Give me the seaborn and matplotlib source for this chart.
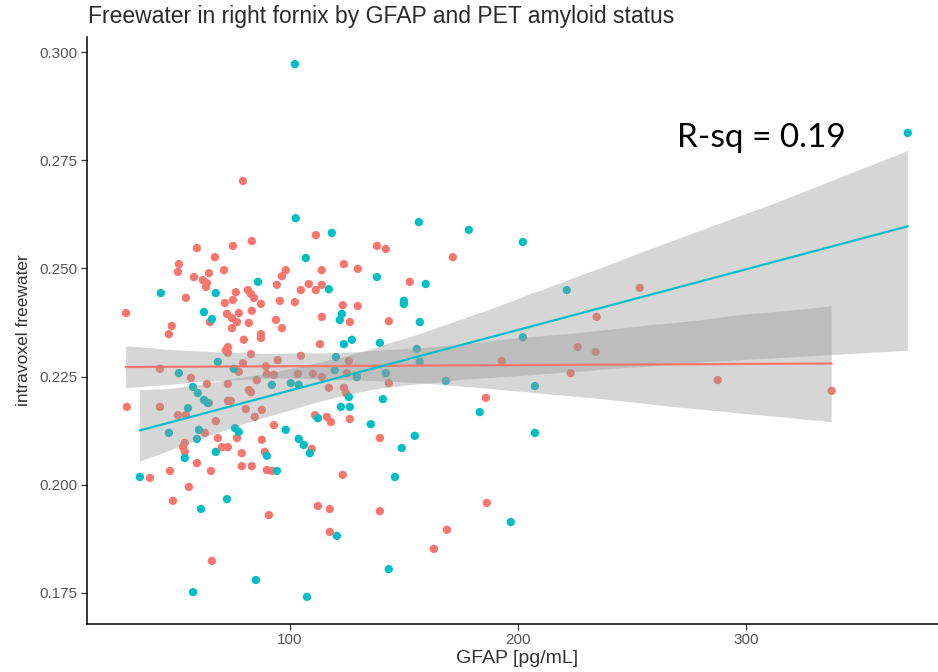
import numpy as np
import pandas as pd
import matplotlib
matplotlib.use("Agg")
import matplotlib.pyplot as plt
import seaborn as sns

# ---------------- data ----------------
neg_gfap = [79.4, 83.3, 59.2, 75.0, 67.1, 51.3, 50.9, 57.9, 64.5, 71.1,
            61.8, 63.6, 63.2, 98.2, 96.5, 94.3, 54.4, 76.3, 75.0, 71.5,
            81.6, 82.9, 84.2, 87.3, 95.6, 102.2, 104.8, 28.1, 64.9, 72.4,
            74.6, 77.6, 76.8, 74.6, 83.3, 82.0, 93.9, 96.5, 48.2, 46.9,
            87.3, 87.3, 79.8, 72.8, 71.9, 72.8, 82.9, 79.4, 89.5, 94.7,
            104.8, 113.2, 125.9, 43.0, 77.6, 56.6, 89.9, 93.0, 103.5, 110.1,
            114.0, 125.0, 129.4, 63.6, 72.8, 85.5, 117.1, 123.7, 124.6, 82.0,
            82.9, 72.8, 74.1, 64.5, 28.5, 43.0, 50.9, 54.4, 80.7, 87.7,
            84.6, 67.5, 93.0, 111.0, 116.2, 118.0, 126.3, 62.7, 53.9, 68.4,
            76.8, 87.7, 70.2, 72.8, 53.1, 53.9, 78.9, 89.0, 59.2, 78.9,
            83.3, 89.9, 92.1, 47.4, 65.4, 38.6, 55.7, 48.7, 90.8, 65.8,
            111.4, 138.2, 142.1, 171.5, 123.7, 129.8, 114.0, 108.3, 114.0, 111.4,
            152.6, 123.2, 129.8, 114.0, 126.3, 143.4, 193.0, 226.3, 234.2, 234.6,
            223.2, 143.4, 186.0, 139.5, 109.6, 123.2, 112.3, 117.5, 139.5, 186.4,
            117.5, 168.9, 163.2, 253.5, 287.7, 337.7]
neg_fw = [0.2702, 0.2563, 0.2547, 0.2552, 0.2526, 0.2510, 0.2492, 0.2480, 0.2489, 0.2496,
          0.2473, 0.2466, 0.2457, 0.2496, 0.2482, 0.2462, 0.2432, 0.2445, 0.2427, 0.2420,
          0.2450, 0.2441, 0.2432, 0.2418, 0.2425, 0.2422, 0.2450, 0.2397, 0.2376, 0.2395,
          0.2385, 0.2397, 0.2376, 0.2362, 0.2402, 0.2374, 0.2381, 0.2362, 0.2367, 0.2348,
          0.2348, 0.2339, 0.2335, 0.2318, 0.2311, 0.2305, 0.2302, 0.2281, 0.2274, 0.2288,
          0.2298, 0.2325, 0.2286, 0.2268, 0.2261, 0.2247, 0.2256, 0.2254, 0.2256, 0.2256,
          0.2249, 0.2258, 0.2249, 0.2233, 0.2233, 0.2242, 0.2224, 0.2224, 0.2212, 0.2219,
          0.2214, 0.2194, 0.2194, 0.2189, 0.2180, 0.2180, 0.2161, 0.2161, 0.2175, 0.2173,
          0.2157, 0.2147, 0.2138, 0.2161, 0.2157, 0.2145, 0.2152, 0.2120, 0.2097, 0.2108,
          0.2108, 0.2104, 0.2087, 0.2087, 0.2087, 0.2076, 0.2073, 0.2076, 0.2050, 0.2043,
          0.2043, 0.2034, 0.2032, 0.2032, 0.2032, 0.2016, 0.1995, 0.1963, 0.1930, 0.1824,
          0.2577, 0.2552, 0.2545, 0.2526, 0.2510, 0.2499, 0.2496, 0.2464, 0.2462, 0.2450,
          0.2469, 0.2415, 0.2413, 0.2388, 0.2376, 0.2378, 0.2286, 0.2318, 0.2307, 0.2388,
          0.2258, 0.2235, 0.2201, 0.2108, 0.2083, 0.2023, 0.1951, 0.1944, 0.1939, 0.1958,
          0.1891, 0.1896, 0.1852, 0.2455, 0.2242, 0.2217]

pos_gfap = [102.2, 102.6, 86.0, 43.4, 67.5, 62.3, 65.8, 68.4, 51.3, 75.4,
            123.7, 127.2, 120.2, 119.7, 57.5, 92.1, 100.4, 103.9, 59.6, 62.3,
            64.0, 125.9, 55.3, 122.4, 126.3, 98.2, 112.3, 46.9, 60.1, 59.2,
            75.9, 77.6, 103.9, 106.1, 108.8, 53.9, 67.5, 89.9, 94.3, 34.2,
            72.4, 61.0, 85.1, 57.5, 156.6, 178.5, 202.2, 118.4, 107.0, 138.2,
            117.1, 159.6, 150.0, 150.0, 122.8, 121.9, 157.0, 139.5, 155.7, 157.0,
            202.2, 142.1, 129.4, 168.4, 207.5, 140.8, 183.3, 135.5, 154.8, 207.5,
            149.1, 146.1, 196.9, 120.6, 143.4, 107.5, 371.1, 221.5]
pos_fw = [0.2972, 0.2616, 0.2469, 0.2443, 0.2443, 0.2399, 0.2383, 0.2284, 0.2258, 0.2268,
          0.2325, 0.2335, 0.2295, 0.2265, 0.2226, 0.2231, 0.2235, 0.2231, 0.2212, 0.2196,
          0.2189, 0.2203, 0.2177, 0.2180, 0.2180, 0.2127, 0.2154, 0.2120, 0.2127, 0.2106,
          0.2131, 0.2122, 0.2106, 0.2092, 0.2073, 0.2062, 0.2076, 0.2067, 0.2032, 0.2018,
          0.1967, 0.1944, 0.1780, 0.1752, 0.2607, 0.2589, 0.2561, 0.2582, 0.2524, 0.2480,
          0.2452, 0.2464, 0.2425, 0.2418, 0.2395, 0.2381, 0.2376, 0.2328, 0.2314, 0.2284,
          0.2341, 0.2258, 0.2249, 0.2240, 0.2228, 0.2198, 0.2168, 0.2140, 0.2113, 0.2120,
          0.2085, 0.2018, 0.1914, 0.1882, 0.1805, 0.1741, 0.2813, 0.2450]

groups = ["negative", "positive"]
group_colors = ["#F8766D", "#00BFC4"]
y_ticks = [0.175, 0.200, 0.225, 0.250, 0.275, 0.300]
x_ticks = [100, 200, 300]
title = "Freewater in right fornix by GFAP and PET amyloid status"
x_label = "GFAP [pg/mL]"
y_label = "intravoxel freewater"
annotation = "R-sq = 0.19"

df = pd.concat([
    pd.DataFrame({"gfap": neg_gfap, "fw": neg_fw, "pet": groups[0]}),
    pd.DataFrame({"gfap": pos_gfap, "fw": pos_fw, "pet": groups[1]}),
], ignore_index=True)

# ---------------- figure ----------------
sns.set_theme(style="white")
plt.rcParams["font.family"] = ["Liberation Sans", "DejaVu Sans"]

fig = plt.figure(figsize=(9.38, 6.72), dpi=100)
ax = fig.add_axes([87 / 938, 48.3 / 672, 860 / 938, 586.4 / 672])

palette = dict(zip(groups, group_colors))
sns.scatterplot(data=df, x="gfap", y="fw", hue="pet", palette=palette,
                s=36, linewidth=0, alpha=1.0, legend=False, ax=ax, zorder=1)

for g, c in zip(groups, group_colors):
    sub = df[df["pet"] == g]
    n_before = len(ax.collections)
    sns.regplot(data=sub, x="gfap", y="fw", scatter=False, ci=95, n_boot=1000,
                seed=7, color=c, line_kws={"linewidth": 1.6}, ax=ax)
    for coll in ax.collections[n_before:]:
        coll.set_facecolor("#999999")
        coll.set_alpha(0.4)
        coll.set_edgecolor("none")

ax.set_xlim(11, 388.3)
ax.set_ylim(0.1679, 0.3034)
ax.set_xticks(x_ticks)
ax.set_yticks(y_ticks)
ax.set_xticklabels([str(v) for v in x_ticks])
ax.set_yticklabels([f"{v:.3f}" for v in y_ticks])
ax.tick_params(axis="both", which="both", length=4, width=0.9, color="#333333",
               labelcolor="#555555", labelsize=11, direction="out",
               bottom=True, left=True, pad=3)

for side in ["top", "right"]:
    ax.spines[side].set_visible(False)
for side in ["left", "bottom"]:
    ax.spines[side].set_visible(True)
    ax.spines[side].set_color("black")
    ax.spines[side].set_linewidth(1.1)

ax.set_xlabel(x_label, fontsize=14, color="#333333")
ax.set_ylabel(y_label, fontsize=12.5, color="#333333")
ax.xaxis.set_label_coords(0.5, -0.060)
ax.xaxis.label.set_va("center")
ax.yaxis.set_label_coords(-0.0744, 0.5)
ax.yaxis.label.set_va("center")

fig.text(88 / 938, 1 - 17 / 672, title, fontsize=16.5, color="#2b2b2b",
         ha="left", va="center")

ax.text(269.7, 0.2801, annotation, fontsize=24, color="black",
        ha="left", va="center", family=["Lato", "DejaVu Sans"])

fig.savefig("out.png", dpi=100, facecolor="white")
